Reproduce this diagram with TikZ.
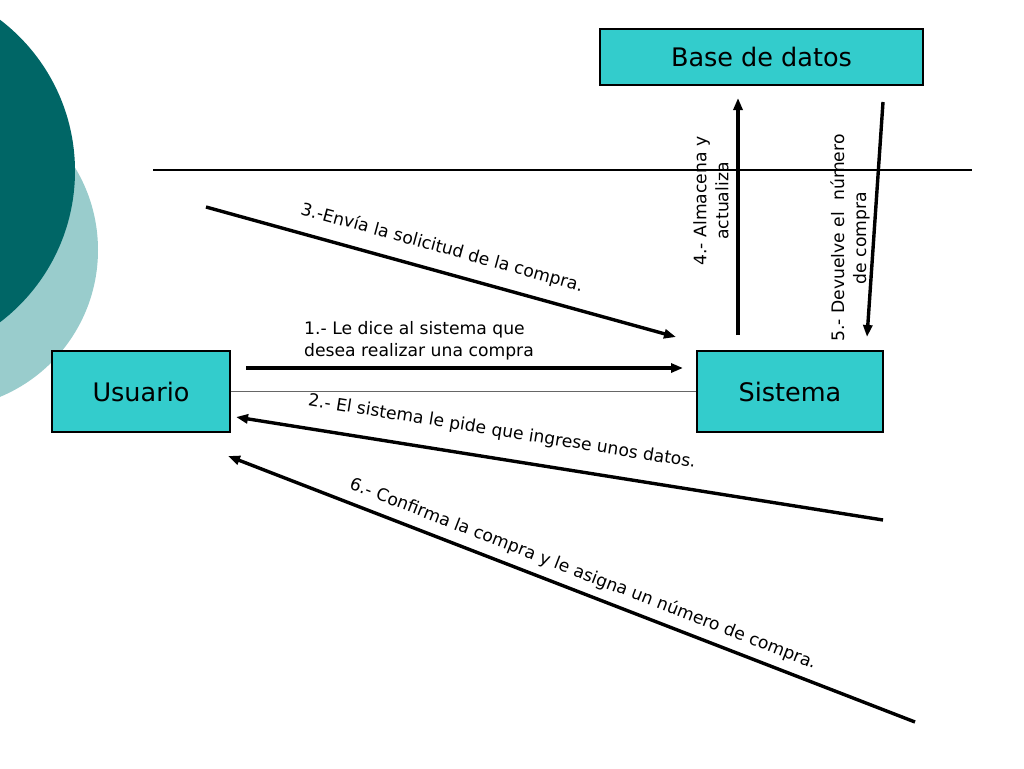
\documentclass[tikz,border=0pt]{standalone}
\usepackage{fontspec}
\setmainfont{DejaVu Sans}
\usetikzlibrary{arrows.meta}
\definecolor{darkteal}{RGB}{0,102,102}
\definecolor{lightteal}{RGB}{153,204,204}
\definecolor{boxfill}{RGB}{51,204,204}
\begin{document}
\begin{tikzpicture}[x=1pt,y=-1pt,
  entity/.style={draw=black, line width=1.1pt, fill=boxfill, inner sep=0pt, font=\fontsize{25.5}{30}\selectfont},
  msg/.style={line width=3.4pt, -{Triangle[length=12pt,width=9pt]}},
  lbl/.style={inner sep=0pt, font=\fontsize{17.2}{22}\selectfont}]
\useasboundingbox (0,0) rectangle (1024,768);
\fill[white] (0,0) rectangle (1024,768);
% background circles
\begin{scope}
\clip (0,0) rectangle (1024,768);
\fill[lightteal] (-61,250) circle[radius=159];
\fill[darkteal] (-115,171) circle[radius=190];
\end{scope}
% boxes
\node[entity, minimum width=323pt, minimum height=56pt] (db) at (761.5,57) {Base de datos};
\node[entity, minimum width=178pt, minimum height=81pt] (user) at (141,391.5) {Usuario};
\node[entity, minimum width=186pt, minimum height=81pt] (sys) at (790,391.5) {Sistema};
% lines
\coordinate (hl) at (153,170);
\coordinate (hr) at (972,170);
\draw[line width=1.3pt] (hl) -- (hr);
\draw[line width=1.6pt, black!60] (user.east) -- (sys.west);
% arrow endpoints
\coordinate (a3s) at (206,207); \coordinate (a3e) at (676,337);
\coordinate (a1s) at (246,368); \coordinate (a1e) at (683,368);
\coordinate (a2s) at (883,520); \coordinate (a2e) at (236,417);
\coordinate (a6s) at (915,722); \coordinate (a6e) at (228,456);
\coordinate (a4s) at (738,335); \coordinate (a4e) at (738,98);
\coordinate (a5s) at (883,102); \coordinate (a5e) at (867,337);
\draw[msg] (a3s) -- (a3e);
\draw[msg] (a1s) -- (a1e);
\draw[msg] (a2s) -- (a2e);
\draw[msg] (a6s) -- (a6e);
\draw[msg] (a4s) -- (a4e);
\draw[msg] (a5s) -- (a5e);
% labels
\node[lbl, rotate=-15.4] (l3) at (442,248) {3.-Envía la solicitud de la compra.};
\node[lbl, anchor=north west, align=left] (l1) at (304,321) {1.- Le dice al sistema que\\desea realizar una compra};
\node[lbl, rotate=-9.1] (l2) at (502,432) {2.- El sistema le pide que ingrese unos datos.};
\node[lbl, rotate=-21.2] (l6) at (583,574) {6.- Confirma la compra y le asigna un número de compra.};
\node[lbl, rotate=90, align=center] (l4) at (711,201) {4.- Almacena y\\actualiza};
\node[lbl, rotate=90, align=center] (l5) at (850,238) {5.- Devuelve el\ \ número\\de compra};
\end{tikzpicture}
\end{document}
